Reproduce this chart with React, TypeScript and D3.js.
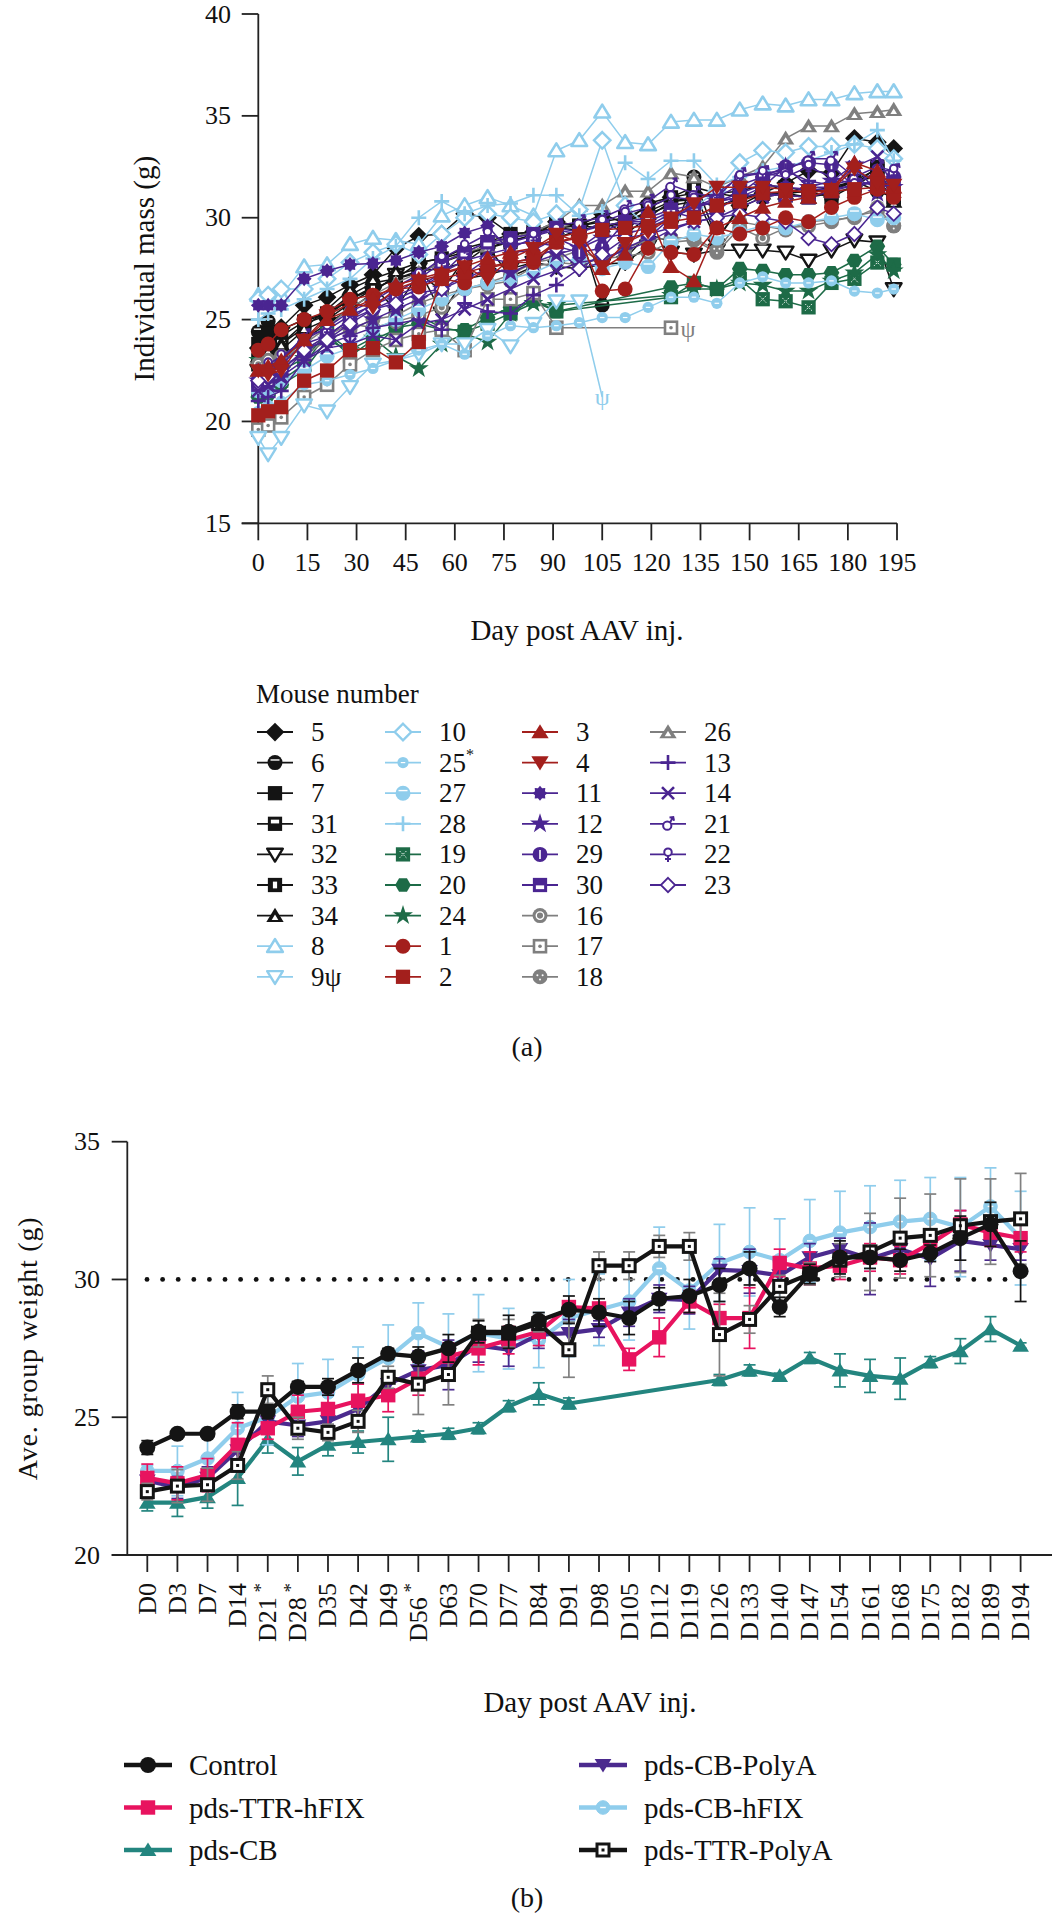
import React from 'react';
import * as d3 from 'd3';

const FONT = '"Liberation Serif", "DejaVu Serif", "Times New Roman", serif';

// ---------- shared x categories ----------
const days = [0, 3, 7, 14, 21, 28, 35, 42, 49, 56, 63, 70, 77, 84, 91, 98, 105, 112, 119, 126, 133, 140, 147, 154, 161, 168, 175, 182, 189, 194];
const dayLabels = ['D0', 'D3', 'D7', 'D14', 'D21*', 'D28*', 'D35', 'D42', 'D49', 'D56*', 'D63', 'D70', 'D77', 'D84', 'D91', 'D98', 'D105', 'D112', 'D119', 'D126', 'D133', 'D140', 'D147', 'D154', 'D161', 'D168', 'D175', 'D182', 'D189', 'D194'];
const aYTicks = [15, 20, 25, 30, 35, 40];
const aXTicks = [0, 15, 30, 45, 60, 75, 90, 105, 120, 135, 150, 165, 180, 195];
const bYTicks = [20, 25, 30, 35];

// ---------- panel (a): individual masses ----------
const m5 = [23.6, 24.1, 24.6, 25.7, 26.1, 26.7, 27.2, 28.5, 29.1, 29.2, 30.2, 30.0, 29.2, 29.3, 29.8, 29.6, 30.2, 29.7, 30.7, 31.0, 31.2, 28.9, 30.6, 31.2, 31.7, 32.3, 32.2, 33.9, 33.7, 33.4];
const m6 = [24.4, 24.9, 24.5, 25.0, 25.3, 26.2, 26.8, 27.0, 27.4, 27.5, 27.8, 28.6, 27.1, 27.6, 29.0, 29.4, 25.7, 28.0, 29.2, 28.8, 32.0, 28.9, 30.5, 31.0, 31.2, 31.3, 31.5, 31.8, 31.3, 31.0];
const m7 = [23.8, 24.3, 24.2, 24.9, 25.3, 26.0, 26.6, 25.5, 27.3, 26.4, 28.0, 28.8, 29.2, 29.3, 29.7, 29.6, 29.9, 29.2, 30.0, 30.8, 31.0, 31.2, 31.0, 31.2, 31.2, 31.3, 31.0, 31.6, 32.5, 31.0];
const m31 = [23.0, 23.5, 23.8, 24.8, 25.2, 26.0, 26.5, 27.0, 27.8, 28.0, 28.3, 28.5, 28.8, 29.2, 29.5, 29.6, 29.5, 29.8, 30.3, 30.8, 30.9, 30.5, 31.0, 31.2, 31.1, 31.0, 31.2, 31.5, 32.3, 30.9];
const m32 = [22.5, 22.8, 23.0, 24.0, 24.8, 25.5, 26.3, 27.2, 27.5, 25.3, 27.0, 27.2, 27.5, 27.8, 27.6, 27.5, 27.7, 27.8, 28.6, 28.3, 28.2, 28.4, 28.4, 28.4, 28.3, 27.9, 28.4, 28.9, 28.8, 26.5];
const m33 = [22.8, 23.2, 23.5, 24.5, 25.0, 25.8, 26.5, 27.0, 27.3, 27.8, 28.2, 28.5, 28.9, 29.1, 29.8, 29.6, 29.8, 30.0, 30.5, 31.0, 31.5, 31.2, 31.3, 31.6, 31.5, 31.3, 31.4, 31.8, 32.4, 31.0];
const m34 = [23.2, 23.5, 23.8, 24.6, 25.5, 26.5, 27.0, 27.4, 27.8, 28.0, 28.5, 28.8, 29.0, 29.3, 29.5, 29.4, 29.6, 29.8, 30.2, 30.6, 30.8, 30.6, 30.9, 31.2, 31.2, 31.0, 31.3, 31.8, 32.0, 30.8];
const m8 = [26.2, 25.9, 26.2, 27.6, 27.7, 28.7, 29.0, 28.9, 28.7, 30.1, 30.6, 31.0, 30.6, 30.1, 33.3, 33.8, 35.2, 33.7, 33.6, 34.7, 34.8, 34.8, 35.3, 35.6, 35.5, 35.8, 35.8, 36.1, 36.2, 36.2];
const m9 = [19.2, 18.4, 19.2, 20.8, 20.5, 21.7, 22.8, 23.0, 23.3, 23.8, 23.8, 24.5, 23.7, 24.8, 25.9, 25.9, 21.2, null, null, null, null, null, null, null, null, null, null, null, null, null];
const m10 = [26.0, 26.2, 26.5, 26.5, 27.0, 27.8, 28.3, 28.7, 28.2, 29.2, 30.0, 30.2, 30.0, 29.8, 30.2, 30.4, 33.8, 30.6, 29.5, 30.0, 30.5, 31.3, 32.7, 33.3, 33.2, 33.5, 33.5, 33.6, 33.4, 32.9];
const m25 = [20.5, 20.8, 21.0, 21.8, 22.0, 22.3, 22.6, 23.0, 23.5, 23.8, 23.3, 24.2, 24.7, 24.6, 24.7, 24.85, 25.1, 25.1, 25.6, 26.1, 26.1, 25.8, 26.8, 27.1, 26.8, 26.8, 26.9, 26.4, 26.3, 26.5];
const m27 = [21.5, 21.5, 22.0, 22.5, 23.2, 23.6, 24.5, 25.0, 25.5, 26.0, 26.5, 26.8, 27.0, 27.3, 27.8, 28.0, 27.5, 27.8, 27.6, 28.8, 29.2, 29.0, 29.3, 29.6, 29.5, 29.8, 30.0, 30.2, 29.9, 30.0];
const m28 = [25.0, 25.3, 25.5, 26.0, 26.5, 27.0, 28.0, 28.6, 30.0, 30.8, 30.2, 30.6, 30.7, 31.1, 31.1, 30.1, 30.3, 32.7, 31.9, 32.8, 32.8, 31.6, 32.0, 32.3, 32.5, 32.8, 33.2, 33.6, 34.3, 32.8];
const m19 = [21.5, 21.6, 22.0, 22.8, 24.3, 23.2, 24.0, 24.5, 25.2, 24.6, 24.4, 24.8, 25.3, 26.0, 25.4, null, null, null, null, 26.1, 26.8, 26.5, 27.0, 26.0, 25.9, 25.6, 26.8, 27.0, 27.8, 27.7];
const m20 = [21.2, 21.3, 21.8, 22.5, 24.0, 23.5, 23.6, 24.6, 24.8, 24.5, 24.5, 25.1, 25.6, 25.9, 25.4, null, null, null, null, 26.6, 26.8, 26.5, 27.5, 27.4, 27.2, 27.2, 27.3, 27.9, 28.6, 27.7];
const m24 = [23.0, 22.8, 22.5, 23.1, 24.3, 23.5, 24.1, 23.2, 22.6, 23.8, 24.3, 23.9, 25.3, 25.8, 25.7, null, null, null, null, 26.2, 26.5, 26.5, 26.8, 26.7, 26.4, 26.4, 26.9, 27.3, 28.2, 27.4];
const m1 = [23.5, 23.8, 24.5, 25.0, 25.4, 26.0, 26.2, 26.5, 26.6, 27.0, 26.8, 27.5, 27.8, 27.8, 28.8, 29.0, 26.4, 26.5, 28.5, 28.3, 28.2, 29.5, 29.2, 29.5, 30.0, 29.8, 30.5, 31.0, 31.4, 31.0];
const m2 = [20.3, 20.5, 20.7, 22.0, 22.5, 23.5, 23.6, 22.9, 23.9, 27.0, 27.3, 27.6, 27.8, 28.0, 28.8, 29.1, 29.4, 29.5, 29.6, 29.8, 30.0, 30.6, 30.8, 31.2, 31.3, 31.3, 31.3, 31.4, 31.5, 31.2];
const m3 = [22.5, 22.7, 23.0, 24.0, 25.0, 25.5, 26.0, 26.7, 27.0, 27.3, 27.6, 28.0, 28.3, 28.5, 29.0, 29.3, 27.5, 28.2, 30.3, 27.6, 26.9, 29.5, 30.0, 30.5, 30.8, 31.0, 31.4, 32.7, 32.3, 31.5];
const m4 = [22.5, 22.3, 22.5, 24.0, 25.2, 25.8, 25.6, 26.5, 26.9, 27.2, 27.6, 27.0, 28.0, 28.5, 29.2, 28.8, 27.6, 28.75, 29.3, 30.0, 30.7, 31.5, 31.5, 31.5, 31.4, 31.2, 31.4, 32.4, 31.7, 31.6];
const m11 = [25.7, 25.7, 25.7, 27.0, 27.4, 27.7, 27.75, 27.9, 28.3, 28.6, 29.25, 29.6, 28.3, 28.4, 29.0, 28.5, 29.3, 29.8, 29.6, 30.2, 30.5, 30.8, 31.2, 31.6, 31.5, 31.4, 31.4, 31.6, 31.8, 31.3];
const m12 = [22.0, 21.8, 22.2, 23.5, 24.0, 24.5, 25.0, 25.5, 26.0, 26.5, 27.0, 27.5, 27.3, 27.8, 28.2, 28.5, 29.0, 29.2, 29.5, 30.0, 30.5, 30.8, 31.0, 31.5, 32.5, 31.5, 31.8, 32.6, 31.2, 31.5];
const m29 = [22.0, 22.2, 22.8, 23.8, 24.2, 25.0, 25.5, 26.0, 26.5, 27.2, 28.3, 28.8, 28.7, 28.8, 28.6, 28.3, 28.5, 29.8, 29.8, 30.3, 30.0, 30.3, 31.2, 32.0, 32.5, 32.7, 32.6, 31.5, 31.8, 32.0];
const m30 = [21.8, 22.0, 22.5, 23.5, 24.2, 25.0, 25.8, 26.3, 27.0, 27.8, 28.3, 28.8, 29.0, 29.2, 29.5, 29.3, 29.6, 29.8, 30.0, 30.4, 30.6, 30.8, 31.0, 31.2, 31.1, 31.0, 31.3, 31.6, 31.8, 31.5];
const m13 = [21.0, 21.2, 21.5, 23.0, 23.8, 24.2, 24.6, 24.8, 25.0, 24.5, 25.8, 25.4, 25.3, 26.2, 26.7, 27.5, 27.8, 28.5, 29.0, 30.0, 30.5, 31.0, 31.6, 32.0, 32.3, 31.8, 31.6, 31.9, 31.5, 32.0];
const m14 = [21.5, 21.8, 22.2, 23.0, 23.6, 23.8, 24.2, 24.0, 24.8, 25.0, 25.5, 26.0, 26.5, 27.0, 27.4, 27.8, 28.0, 28.4, 28.8, 29.4, 29.8, 30.0, 30.5, 31.0, 31.2, 31.5, 31.5, 32.5, 33.0, 31.5];
const m21 = [22.3, 22.5, 23.0, 24.2, 24.5, 25.2, 25.7, 26.2, 26.6, 27.3, 27.9, 28.2, 28.5, 29.0, 29.6, 29.8, 30.0, 30.5, 30.8, 31.6, 31.2, 31.0, 32.1, 32.2, 32.3, 32.9, 32.9, 32.0, 32.5, 32.3];
const m22 = [22.5, 22.8, 23.2, 24.0, 24.6, 25.4, 25.9, 26.6, 27.2, 28.0, 28.6, 29.2, 28.8, 29.1, 29.4, 29.2, 29.8, 30.2, 30.5, 31.0, 30.9, 31.2, 32.0, 32.2, 32.0, 32.5, 32.0, 31.6, 32.3, 32.3];
const m23 = [22.0, 22.2, 22.5, 23.5, 24.0, 24.8, 25.5, 25.8, 26.3, 26.5, 27.2, 28.0, 27.8, 28.0, 28.5, 27.5, 28.2, 29.0, 29.2, 29.5, 29.8, 30.0, 30.2, 30.0, 29.8, 29.0, 28.7, 29.2, 30.5, 30.2];
const m16 = [22.8, 23.0, 23.2, 23.5, 24.2, 24.8, 24.6, 24.9, 25.2, 25.6, 26.5, 26.7, 26.9, 27.6, 27.8, 27.7, 28.0, 28.1, 28.3, 28.8, 28.9, 28.3, 29.5, 29.0, 29.5, 29.6, 29.8, 30.1, 30.3, 29.6];
const m17 = [19.6, 19.8, 20.2, 21.2, 21.8, 22.8, 23.5, 24.0, 24.3, 24.5, 23.5, 26.0, 26.0, 26.3, 24.6, null, null, null, null, 24.6, null, null, null, null, null, null, null, null, null, null];
const m18 = [22.0, 22.4, 22.8, 23.2, 24.0, 24.5, 25.0, 25.2, 25.8, 26.2, 26.5, 26.8, 27.2, 27.8, 28.0, 28.4, 27.9, 28.5, 28.9, 29.0, 29.0, 28.4, 29.8, 29.6, 29.4, 29.8, 29.9, 30.0, 30.5, 29.6];
const m26 = [22.5, 22.7, 23.0, 23.8, 24.6, 25.6, 26.2, 26.8, 27.3, 27.8, 28.3, 28.6, 29.0, 29.3, 29.8, 30.6, 30.6, 31.3, 31.3, 32.2, 32.0, 31.5, 32.0, 32.5, 33.9, 34.5, 34.5, 35.1, 35.2, 35.3];

// ---------- panel (b): group means and SEM ----------
const control = [23.9, 24.4, 24.4, 25.2, 25.2, 26.1, 26.1, 26.7, 27.3, 27.2, 27.5, 28.1, 28.1, 28.5, 28.9, 28.8, 28.6, 29.3, 29.4, 29.8, 30.4, 29.0, 30.2, 30.8, 30.8, 30.7, 30.95, 31.5, 32.0, 30.3];
const controlErr = [0.25, 0.1, 0.1, 0.25, 0.25, 0.2, 0.3, 0.45, 0.2, 0.35, 0.5, 0.4, 0.6, 0.3, 0.5, 0.5, 0.6, 0.4, 0.6, 0.6, 0.6, 0.35, 0.35, 0.6, 0.4, 0.4, 0.3, 0.8, 0.8, 1.1];
const ttrHfix = [22.8, 22.6, 22.9, 24.0, 24.6, 25.2, 25.3, 25.6, 25.8, 26.4, 27.2, 27.5, 27.8, 28.1, 29.0, 28.95, 27.1, 27.9, 29.2, 28.6, 28.6, 30.6, 30.4, 30.5, 30.8, 30.7, 31.3, 32.0, 31.7, 31.5];
const ttrHfixErr = [0.5, 0.6, 0.6, 0.8, 0.4, 0.6, 0.6, 0.6, 0.6, 0.6, 0.5, 0.6, 0.5, 0.5, 0.2, 0.2, 0.4, 0.7, 0.4, 0.5, 1.1, 0.5, 0.6, 0.5, 0.5, 0.5, 0.4, 0.5, 0.5, 0.5];
const cb = [21.9, 21.9, 22.1, 22.8, 24.2, 23.4, 24.0, 24.1, 24.2, 24.3, 24.4, 24.6, 25.4, 25.85, 25.5, null, null, null, null, 26.35, 26.7, 26.5, 27.15, 26.7, 26.5, 26.4, 27.0, 27.4, 28.2, 27.6];
const cbErr = [0.3, 0.5, 0.4, 1.0, 0.5, 0.5, 0.4, 0.4, 0.8, 0.2, 0.2, 0.2, 0.2, 0.4, 0.2, null, null, null, null, 0.2, 0.2, 0.1, 0.2, 0.6, 0.6, 0.75, 0.2, 0.45, 0.45, 0.1];
const cbPolyA = [22.7, 22.45, 22.8, 23.8, 24.85, 24.7, 24.85, 25.3, 26.2, 26.7, 26.9, 27.6, 27.45, 28.0, 28.05, 28.2, 28.8, 29.3, 29.25, 30.35, 30.3, 30.15, 30.8, 31.1, 30.75, 31.1, 30.75, 31.4, 31.25, 31.1];
const cbPolyAErr = [0.2, 0.4, 0.4, 0.4, 0.4, 0.4, 0.4, 0.4, 0.4, 0.7, 0.9, 0.6, 0.6, 0.5, 0.5, 0.3, 0.5, 0.5, 0.5, 0.4, 0.8, 0.4, 0.5, 0.4, 1.3, 0.6, 1.0, 1.1, 0.55, 0.4];
const cbHfix = [23.05, 23.05, 23.5, 24.6, 25.0, 25.75, 25.9, 26.55, 27.15, 28.05, 27.55, 28.05, 27.85, 27.8, 28.6, 28.9, 29.2, 30.4, 29.6, 30.6, 31.0, 30.7, 31.4, 31.7, 31.9, 32.1, 32.2, 31.9, 32.65, 31.5];
const cbHfixErr = [0.2, 0.9, 1.0, 1.3, 1.0, 1.2, 1.2, 1.0, 1.2, 1.1, 1.2, 1.4, 1.1, 1.0, 1.4, 1.3, 1.4, 1.5, 1.4, 1.4, 1.6, 1.5, 1.5, 1.5, 1.5, 1.5, 1.5, 1.8, 1.4, 1.7];
const ttrPolyA = [22.3, 22.5, 22.55, 23.25, 26.0, 24.6, 24.45, 24.85, 26.45, 26.2, 26.55, 28.05, 28.05, 28.4, 27.45, 30.5, 30.5, 31.2, 31.2, 28.0, 28.55, 29.75, 30.2, 30.7, 31.0, 31.5, 31.6, 31.95, 32.1, 32.2];
const ttrPolyAErr = [0.3, 0.6, 0.6, 0.5, 0.5, 0.4, 0.3, 0.4, 0.4, 1.1, 1.1, 0.5, 0.5, 0.3, 1.0, 0.5, 0.5, 0.4, 0.5, 1.5, 0.5, 0.4, 0.4, 0.6, 1.4, 1.45, 1.5, 1.7, 1.55, 1.65];
const refWeight = 30;

// ---------- colours ----------
const BLACK = '#141414';
const LBLUE = '#8fcdec';
const GREEN = '#1d6b47';
const RED = '#a31f1c';
const PURPLE = '#4a2591';
const GREY = '#7f7f7f';

const mice = [
  { id: '5', v: m5, c: BLACK, t: 'diamond' },
  { id: '6', v: m6, c: BLACK, t: 'circleHalf' },
  { id: '7', v: m7, c: BLACK, t: 'square' },
  { id: '31', v: m31, c: BLACK, t: 'squareTopWhite' },
  { id: '32', v: m32, c: BLACK, t: 'triDownOpen' },
  { id: '33', v: m33, c: BLACK, t: 'squareDot' },
  { id: '34', v: m34, c: BLACK, t: 'triUpDot' },
  { id: '19', v: m19, c: GREEN, t: 'squareX' },
  { id: '20', v: m20, c: GREEN, t: 'hexagon' },
  { id: '24', v: m24, c: GREEN, t: 'star' },
  { id: '16', v: m16, c: GREY, t: 'circleRing' },
  { id: '17', v: m17, c: GREY, t: 'squareOpenDot' },
  { id: '18', v: m18, c: GREY, t: 'circleDots' },
  { id: '26', v: m26, c: GREY, t: 'triUpDot' },
  { id: '8', v: m8, c: LBLUE, t: 'triUpOpen' },
  { id: '9', v: m9, c: LBLUE, t: 'triDownOpen' },
  { id: '10', v: m10, c: LBLUE, t: 'diamondOpen' },
  { id: '25', v: m25, c: LBLUE, t: 'circleSmall' },
  { id: '27', v: m27, c: LBLUE, t: 'circleHalf' },
  { id: '28', v: m28, c: LBLUE, t: 'plus' },
  { id: '11', v: m11, c: PURPLE, t: 'flower' },
  { id: '12', v: m12, c: PURPLE, t: 'star' },
  { id: '29', v: m29, c: PURPLE, t: 'circleVLine' },
  { id: '30', v: m30, c: PURPLE, t: 'squareBottomWhite' },
  { id: '13', v: m13, c: PURPLE, t: 'plus' },
  { id: '14', v: m14, c: PURPLE, t: 'cross' },
  { id: '21', v: m21, c: PURPLE, t: 'male' },
  { id: '22', v: m22, c: PURPLE, t: 'female' },
  { id: '23', v: m23, c: PURPLE, t: 'diamondThin' },
  { id: '1', v: m1, c: RED, t: 'circle' },
  { id: '2', v: m2, c: RED, t: 'square' },
  { id: '3', v: m3, c: RED, t: 'triUp' },
  { id: '4', v: m4, c: RED, t: 'triDown' },
];

const legendCols = [
  ['5', '6', '7', '31', '32', '33', '34', '8', '9'],
  ['10', '25', '27', '28', '19', '20', '24', '1', '2'],
  ['3', '4', '11', '12', '29', '30', '16', '17', '18'],
  ['26', '13', '14', '21', '22', '23'],
];

const groups = [
  { name: 'pds-CB', v: cb, e: cbErr, c: '#23857f', ec: '#23857f', t: 'bTri' },
  { name: 'pds-CB-hFIX', v: cbHfix, e: cbHfixErr, c: LBLUE, ec: LBLUE, t: 'bCircleOpen' },
  { name: 'pds-CB-PolyA', v: cbPolyA, e: cbPolyAErr, c: '#4b2a8e', ec: '#4b2a8e', t: 'bTriDown' },
  { name: 'pds-TTR-hFIX', v: ttrHfix, e: ttrHfixErr, c: '#e8135f', ec: '#e8135f', t: 'bSquare' },
  { name: 'pds-TTR-PolyA', v: ttrPolyA, e: ttrPolyAErr, c: BLACK, ec: '#808080', t: 'bSquareOpen' },
  { name: 'Control', v: control, e: controlErr, c: BLACK, ec: BLACK, t: 'bCircle' },
];
const legendB = [
  ['Control', 'pds-TTR-hFIX', 'pds-CB'],
  ['pds-CB-PolyA', 'pds-CB-hFIX', 'pds-TTR-PolyA'],
];

function Marker({ t, x, y, c, s }: { t: string; x: number; y: number; c: string; s: number }) {
  const h = s / 2;
  const W = '#fff';
  const dia = (k: number) => `M${x},${y - k}L${x + k},${y}L${x},${y + k}L${x - k},${y}Z`;
  const tri = (up: boolean, k: number) =>
    up
      ? `M${x},${y - k}L${x + k * 1.1},${y + k * 0.8}L${x - k * 1.1},${y + k * 0.8}Z`
      : `M${x},${y + k}L${x + k * 1.1},${y - k * 0.8}L${x - k * 1.1},${y - k * 0.8}Z`;
  switch (t) {
    case 'diamond':
      return <path d={dia(h * 1.25)} fill={c} />;
    case 'diamondOpen':
      return <path d={dia(h * 1.1)} fill={W} stroke={c} strokeWidth={2.4} />;
    case 'diamondThin':
      return <path d={dia(h * 0.95)} fill={W} stroke={c} strokeWidth={1.8} />;
    case 'circle':
      return <circle cx={x} cy={y} r={h} fill={c} />;
    case 'circleHalf':
      return (
        <g>
          <circle cx={x} cy={y} r={h} fill={c} />
          <line x1={x - h * 0.6} x2={x + h * 0.6} y1={y - h * 0.35} y2={y - h * 0.35} stroke={W} strokeWidth={1.4} />
        </g>
      );
    case 'circleSmall':
      return (
        <g>
          <circle cx={x} cy={y} r={h * 0.75} fill={c} />
          <line x1={x - h * 0.3} x2={x + h * 0.3} y1={y} y2={y} stroke={W} strokeWidth={1.2} />
        </g>
      );
    case 'circleVLine':
      return (
        <g>
          <circle cx={x} cy={y} r={h} fill={c} />
          <line x1={x} x2={x} y1={y - h * 0.6} y2={y + h * 0.6} stroke={W} strokeWidth={1.6} />
        </g>
      );
    case 'circleRing':
      return (
        <g>
          <circle cx={x} cy={y} r={h} fill={c} />
          <circle cx={x} cy={y} r={h * 0.5} fill="none" stroke={W} strokeWidth={1.4} />
        </g>
      );
    case 'circleDots':
      return (
        <g>
          <circle cx={x} cy={y} r={h} fill={c} />
          <circle cx={x - h * 0.35} cy={y - h * 0.2} r={1} fill={W} />
          <circle cx={x + h * 0.35} cy={y - h * 0.2} r={1} fill={W} />
          <circle cx={x} cy={y + h * 0.35} r={1} fill={W} />
        </g>
      );
    case 'square':
      return <rect x={x - h * 0.95} y={y - h * 0.95} width={h * 1.9} height={h * 1.9} fill={c} />;
    case 'squareTopWhite':
      return (
        <g>
          <rect x={x - h * 0.95} y={y - h * 0.95} width={h * 1.9} height={h * 1.9} fill={c} />
          <rect x={x - h * 0.55} y={y - h * 0.55} width={h * 1.1} height={h * 0.5} fill={W} />
        </g>
      );
    case 'squareBottomWhite':
      return (
        <g>
          <rect x={x - h * 0.95} y={y - h * 0.95} width={h * 1.9} height={h * 1.9} fill={c} />
          <rect x={x - h * 0.55} y={y + h * 0.05} width={h * 1.1} height={h * 0.5} fill={W} />
        </g>
      );
    case 'squareDot':
      return (
        <g>
          <rect x={x - h * 0.95} y={y - h * 0.95} width={h * 1.9} height={h * 1.9} fill={c} />
          <rect x={x - h * 0.28} y={y - h * 0.45} width={h * 0.56} height={h * 0.9} fill={W} />
        </g>
      );
    case 'squareOpenDot':
      return (
        <g>
          <rect x={x - h * 0.8} y={y - h * 0.8} width={h * 1.6} height={h * 1.6} fill={W} stroke={c} strokeWidth={2.6} />
          <circle cx={x} cy={y} r={1.8} fill={c} />
        </g>
      );
    case 'squareX':
      return (
        <g>
          <rect x={x - h * 0.95} y={y - h * 0.95} width={h * 1.9} height={h * 1.9} fill={c} />
          <path d={`M${x - h * 0.45},${y - h * 0.45}L${x + h * 0.45},${y + h * 0.45}M${x + h * 0.45},${y - h * 0.45}L${x - h * 0.45},${y + h * 0.45}`} stroke={W} strokeWidth={0.9} strokeDasharray="1.5 1.2" />
        </g>
      );
    case 'triUp':
      return <path d={tri(true, h * 1.05)} fill={c} />;
    case 'triDown':
      return <path d={tri(false, h * 1.05)} fill={c} />;
    case 'triUpOpen':
      return <path d={tri(true, h * 0.95)} fill={W} stroke={c} strokeWidth={2.6} strokeLinejoin="round" />;
    case 'triDownOpen':
      return <path d={tri(false, h * 0.95)} fill={W} stroke={c} strokeWidth={2.4} strokeLinejoin="round" />;
    case 'triUpDot':
      return (
        <g>
          <path d={tri(true, h * 1.05)} fill={c} />
          <path d={tri(true, h * 0.4)} fill={W} transform={`translate(0,${h * 0.25})`} />
        </g>
      );
    case 'plus':
      return <path d={`M${x - h},${y}L${x + h},${y}M${x},${y - h}L${x},${y + h}`} stroke={c} strokeWidth={2.6} />;
    case 'cross':
      return <path d={`M${x - h * 0.8},${y - h * 0.8}L${x + h * 0.8},${y + h * 0.8}M${x + h * 0.8},${y - h * 0.8}L${x - h * 0.8},${y + h * 0.8}`} stroke={c} strokeWidth={2.6} />;
    case 'star':
      return <path d={d3.symbol(d3.symbolStar, s * s * 0.55)() || ''} transform={`translate(${x},${y})`} fill={c} />;
    case 'hexagon': {
      const pts = d3.range(6).map((i) => {
        const a = (Math.PI / 3) * i;
        return `${x + h * 1.05 * Math.cos(a)},${y + h * 1.05 * Math.sin(a)}`;
      });
      return <polygon points={pts.join(' ')} fill={c} />;
    }
    case 'flower': {
      const pts = d3.range(16).map((i) => {
        const a = (Math.PI / 8) * i;
        const r = i % 2 === 0 ? h : h * 0.72;
        return `${x + r * Math.cos(a)},${y + r * Math.sin(a)}`;
      });
      return <polygon points={pts.join(' ')} fill={c} />;
    }
    case 'male':
      return (
        <g fill="none" stroke={c} strokeWidth={2}>
          <circle cx={x - h * 0.1} cy={y + h * 0.25} r={h * 0.55} fill={W} />
          <path d={`M${x + h * 0.25},${y - h * 0.15}L${x + h * 0.65},${y - h * 0.85}M${x + h * 0.2},${y - h * 0.85}L${x + h * 0.7},${y - h * 0.9}L${x + h * 0.8},${y - h * 0.4}`} />
        </g>
      );
    case 'female':
      return (
        <g fill="none" stroke={c} strokeWidth={2}>
          <circle cx={x} cy={y - h * 0.3} r={h * 0.5} fill={W} />
          <path d={`M${x},${y + h * 0.2}L${x},${y + h}M${x - h * 0.4},${y + h * 0.6}L${x + h * 0.4},${y + h * 0.6}`} />
        </g>
      );
    case 'bCircle':
      return <circle cx={x} cy={y} r={h} fill={c} />;
    case 'bCircleOpen':
      return (
        <g>
          <circle cx={x} cy={y} r={h * 0.85} fill={c} stroke={c} strokeWidth={1} />
          <line x1={x - h * 0.35} x2={x + h * 0.35} y1={y} y2={y} stroke={W} strokeWidth={1.4} />
        </g>
      );
    case 'bSquare':
      return <rect x={x - h * 0.9} y={y - h * 0.9} width={h * 1.8} height={h * 1.8} fill={c} />;
    case 'bSquareOpen':
      return (
        <g>
          <rect x={x - h * 0.75} y={y - h * 0.75} width={h * 1.5} height={h * 1.5} fill={W} stroke={c} strokeWidth={3} />
          <rect x={x - 1.5} y={y - 1.5} width={3} height={3} fill={c} />
        </g>
      );
    case 'bTri':
      return <path d={tri(true, h * 0.95)} fill={c} />;
    case 'bTriDown':
      return <path d={tri(false, h * 0.95)} fill={c} />;
    default:
      return <circle cx={x} cy={y} r={h} fill={c} />;
  }
}

export default function App() {
  const xa = d3.scaleLinear().domain([0, 195]).range([258.3, 897]);
  const ya = d3.scaleLinear().domain([15, 40]).range([523.3, 14]);
  const xb = d3.scalePoint<string>().domain(dayLabels).range([147.3, 1020.6]);
  const yb = d3.scaleLinear().domain([20, 35]).range([1555, 1141.7]);

  const lineA = d3
    .line<{ d: number; v: number }>()
    .x((p) => xa(p.d))
    .y((p) => ya(p.v));
  const lineB = d3
    .line<{ k: string; v: number }>()
    .x((p) => xb(p.k) as number)
    .y((p) => yb(p.v));

  const legendRowY = (i: number) => 732 + i * 30.6;
  const legendColX = [275, 403, 540, 668];
  const legendLabel = (id: string) => (id === '9' ? '9ψ' : id);

  const gByName: Record<string, any> = {};
  groups.forEach((g) => (gByName[g.name] = g));

  const dotXs = d3.range(147, 1014, 15.6);
  const txt = { fontFamily: FONT } as React.CSSProperties;

  return (
    <svg
      width={1055}
      height={1920}
      style={{ position: 'absolute', left: 0, top: 0, background: '#fff', fontFamily: FONT }}
    >
      <rect x={0} y={0} width={1055} height={1920} fill="#fff" />

      {/* ================= Panel (a) ================= */}
      <g style={txt}>
        <line x1={258.3} x2={258.3} y1={ya(40)} y2={ya(15)} stroke="#222" strokeWidth={1.8} />
        <line x1={241.7} x2={xa(195)} y1={ya(15)} y2={ya(15)} stroke="#222" strokeWidth={1.8} />
        {aYTicks.map((t) => (
          <g key={'ay' + t}>
            <line x1={241.7} x2={258.3} y1={ya(t)} y2={ya(t)} stroke="#222" strokeWidth={1.8} />
            <text x={231} y={ya(t)} textAnchor="end" dominantBaseline="central" fontSize={26} fill="#111" style={txt}>
              {t}
            </text>
          </g>
        ))}
        {aXTicks.map((t) => (
          <g key={'ax' + t}>
            <line x1={xa(t)} x2={xa(t)} y1={ya(15)} y2={ya(15) + 17} stroke="#222" strokeWidth={1.8} />
            <text x={xa(t)} y={571} textAnchor="middle" fontSize={26} fill="#111" style={txt}>
              {t}
            </text>
          </g>
        ))}
        <text
          transform={`translate(144,${(ya(40) + ya(15)) / 2}) rotate(-90)`}
          textAnchor="middle"
          dominantBaseline="central"
          fontSize={29}
          fill="#111"
          style={txt}
        >
          Individual mass (g)
        </text>
        <text x={577} y={630} textAnchor="middle" dominantBaseline="central" fontSize={29} fill="#111" style={txt}>
          Day post AAV inj.
        </text>

        {mice.map((m) => {
          const pts = days
            .map((d, i) => ({ d, v: m.v[i] as number | null }))
            .filter((p) => p.v !== null && p.v !== undefined) as { d: number; v: number }[];
          const last = pts[pts.length - 1];
          return (
            <g key={'m' + m.id}>
              <path d={lineA(pts) || ''} fill="none" stroke={m.c} strokeWidth={1.5} />
              {pts.map((p, i) => {
                if (m.id === '9' && i === pts.length - 1) return null;
                return <Marker key={i} t={m.t} x={xa(p.d)} y={ya(p.v)} c={m.c} s={15} />;
              })}
              {m.id === '9' && (
                <text x={xa(last.d)} y={ya(last.v)} textAnchor="middle" dominantBaseline="central" fontSize={24} fill={LBLUE} style={txt}>
                  ψ
                </text>
              )}
              {m.id === '17' && (
                <text x={xa(last.d) + 17} y={ya(last.v) + 1} textAnchor="middle" dominantBaseline="central" fontSize={24} fill={GREY} style={txt}>
                  ψ
                </text>
              )}
            </g>
          );
        })}

        <text x={256} y={694} dominantBaseline="central" fontSize={27} fill="#111" style={txt}>
          Mouse number
        </text>
        {legendCols.map((col, ci) =>
          col.map((id, ri) => {
            const m = mice.find((mm) => mm.id === id)!;
            const cx = legendColX[ci];
            const cy = legendRowY(ri);
            return (
              <g key={'lg' + id}>
                <line x1={cx - 18} x2={cx + 18} y1={cy} y2={cy} stroke={m.c} strokeWidth={1.8} />
                <Marker t={m.t} x={cx} y={cy} c={m.c} s={15} />
                <text x={cx + 36} y={cy} dominantBaseline="central" fontSize={27} fill="#111" style={txt}>
                  {legendLabel(id)}
                  {id === '25' && (
                    <tspan fontSize={16} dy={-9}>
                      *
                    </tspan>
                  )}
                </text>
              </g>
            );
          })
        )}
        <text x={527} y={1046} textAnchor="middle" dominantBaseline="central" fontSize={28} fill="#111" style={txt}>
          (a)
        </text>
      </g>

      {/* ================= Panel (b) ================= */}
      <g style={txt}>
        <line x1={127.3} x2={127.3} y1={yb(35)} y2={yb(20)} stroke="#222" strokeWidth={1.8} />
        <line x1={111.7} x2={1052} y1={yb(20)} y2={yb(20)} stroke="#222" strokeWidth={1.8} />
        {bYTicks.map((t) => (
          <g key={'by' + t}>
            <line x1={111.7} x2={127.3} y1={yb(t)} y2={yb(t)} stroke="#222" strokeWidth={1.8} />
            <text x={100} y={yb(t)} textAnchor="end" dominantBaseline="central" fontSize={26} fill="#111" style={txt}>
              {t}
            </text>
          </g>
        ))}
        {dayLabels.map((lab) => {
          const x = xb(lab) as number;
          const star = lab.endsWith('*');
          const base = star ? lab.slice(0, -1) : lab;
          return (
            <g key={'bx' + lab}>
              <line x1={x} x2={x} y1={yb(20)} y2={yb(20) + 17} stroke="#222" strokeWidth={1.8} />
              <text
                transform={`translate(${x},1583) rotate(-90)`}
                textAnchor="end"
                dominantBaseline="central"
                fontSize={26}
                fill="#111"
                style={txt}
              >
                {base}
                {star && (
                  <tspan dy={-8} fontSize={19}>
                    {' *'}
                  </tspan>
                )}
              </text>
            </g>
          );
        })}
        <text
          transform={`translate(27,${(yb(35) + yb(20)) / 2}) rotate(-90)`}
          textAnchor="middle"
          dominantBaseline="central"
          fontSize={28}
          letterSpacing={0.8}
          fill="#111"
          style={txt}
        >
          Ave. group weight (g)
        </text>
        <text x={590} y={1702} textAnchor="middle" dominantBaseline="central" fontSize={29} fill="#111" style={txt}>
          Day post AAV inj.
        </text>

        {dotXs.map((dx, i) => (
          <circle key={'dot' + i} cx={dx} cy={yb(refWeight)} r={2.4} fill="#111" />
        ))}

        {groups.map((g) => {
          const pts = dayLabels
            .map((k, i) => ({ k, v: g.v[i] as number | null, e: g.e[i] as number | null }))
            .filter((p) => p.v !== null) as { k: string; v: number; e: number }[];
          return (
            <g key={'g' + g.name}>
              {pts.map((p, i) => {
                const x = xb(p.k) as number;
                return (
                  <g key={'e' + i} stroke={g.ec} strokeWidth={1.7}>
                    <line x1={x} x2={x} y1={yb(p.v - p.e)} y2={yb(p.v + p.e)} />
                    <line x1={x - 6} x2={x + 6} y1={yb(p.v + p.e)} y2={yb(p.v + p.e)} />
                    <line x1={x - 6} x2={x + 6} y1={yb(p.v - p.e)} y2={yb(p.v - p.e)} />
                  </g>
                );
              })}
              <path d={lineB(pts) || ''} fill="none" stroke={g.c} strokeWidth={4.2} strokeLinejoin="round" />
              {pts.map((p, i) => (
                <Marker key={'mk' + i} t={g.t} x={xb(p.k) as number} y={yb(p.v)} c={g.c} s={16} />
              ))}
            </g>
          );
        })}

        {legendB.map((col, ci) =>
          col.map((name, ri) => {
            const g = gByName[name];
            const x0 = ci === 0 ? 124 : 579;
            const cy = 1765 + ri * 42.5;
            return (
              <g key={'lb' + name}>
                <line x1={x0} x2={x0 + 48} y1={cy} y2={cy} stroke={g.c} strokeWidth={4.5} />
                <Marker t={g.t} x={x0 + 24} y={cy} c={g.c} s={16} />
                <text x={x0 + 65} y={cy} dominantBaseline="central" fontSize={29} fill="#111" style={txt}>
                  {name}
                </text>
              </g>
            );
          })
        )}
        <text x={527} y={1897} textAnchor="middle" dominantBaseline="central" fontSize={28} fill="#111" style={txt}>
          (b)
        </text>
      </g>
    </svg>
  );
}
